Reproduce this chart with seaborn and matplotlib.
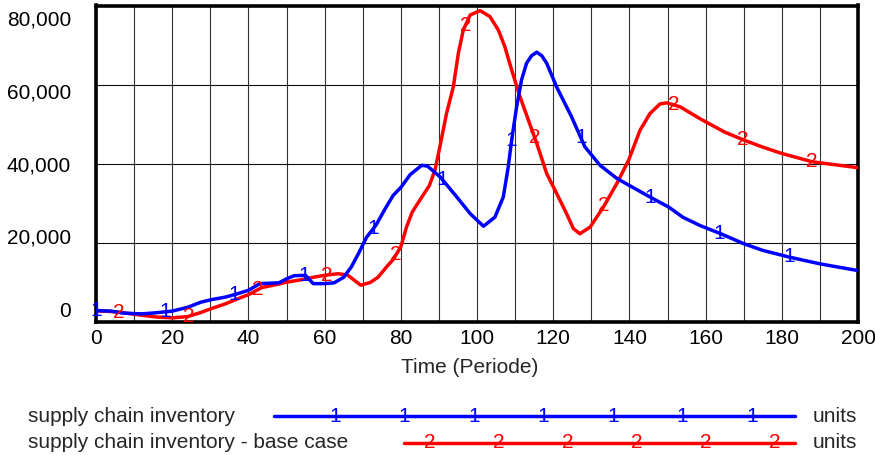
import numpy as np
import pandas as pd
import matplotlib
matplotlib.use("Agg")
import matplotlib.pyplot as plt
from matplotlib.lines import Line2D
from matplotlib.transforms import ScaledTranslation
import seaborn as sns

# Run 1: supply chain inventory
inv_time = [0, 4, 7, 12, 16, 20, 24, 27.5, 30, 34, 37, 40, 43, 48, 50, 52, 55, 57, 60, 62.5,
            65, 67, 69, 71, 73.5, 76, 78, 80, 82.5, 85.5, 87, 90.3, 94.7, 98.2, 101.7, 104.7,
            106.9, 108.2, 109.1, 110.4, 111.7, 113, 114.3, 115.7, 117, 118.3, 120.9, 124.8,
            128.3, 132.3, 136.7, 140, 145.4, 150.4, 154, 158.5, 164, 170, 175, 182, 190, 200]
inv_units = [2900, 2750, 2250, 2050, 2350, 2750, 3700, 5000, 5600, 6300, 7100, 8000, 9700, 9900,
             10900, 11700, 11800, 9700, 9700, 9900, 11300, 13900, 17500, 21400, 24500, 28800,
             32000, 34000, 37300, 39600, 39400, 36700, 31600, 27400, 24200, 26500, 31600, 39200,
             46000, 54400, 61200, 65400, 67300, 68200, 67300, 65400, 59400, 51900, 44300, 39600,
             36300, 34500, 31600, 29000, 26500, 24400, 22300, 19800, 18100, 16400, 14700, 13000]

# Run 2: supply chain inventory - base case
base_time = [0, 3, 6, 9, 12, 16, 20, 24, 27.5, 30, 34, 37, 40, 43.5, 48, 50, 54, 57, 60, 63.5,
             66, 68, 69.5, 72, 74, 76.5, 78, 80, 81.5, 83, 85, 87.5, 89, 90.3, 92, 93.8, 95.1,
             96.4, 98.2, 100.8, 103.4, 105.6, 107.3, 109.1, 111.3, 113.5, 115.7, 118.3, 120.9,
             123.5, 125.3, 127, 129.7, 133.2, 136.7, 139.8, 142.8, 145.4, 148, 149.8, 153.3,
             158.5, 165, 170, 175, 180, 188, 200]
base_units = [2800, 2700, 2500, 2100, 1700, 1250, 1050, 1350, 2400, 3300, 4600, 5800, 6900, 8700,
              9600, 10050, 10700, 11300, 11800, 12200, 11900, 10400, 9300, 10000, 11300, 14200,
              15800, 19000, 24000, 27800, 30800, 34500, 38500, 44500, 52700, 59500, 67900, 73800,
              77600, 78700, 77200, 73800, 69600, 63700, 56900, 51000, 45100, 37500, 32500, 27400,
              23600, 22300, 24000, 29100, 35000, 40900, 48500, 52700, 55100, 55400, 54400, 51400,
              48000, 46000, 44200, 42600, 40500, 39000]

x_ticks = list(range(0, 201, 20))
x_grid = list(range(0, 201, 10))
y_ticks = [0, 20000, 40000, 60000, 80000]
y_tick_labels = ["0", "20,000", "40,000", "60,000", "80,000"]
series_names = ["supply chain inventory", "supply chain inventory - base case"]
series_ids = ["1", "2"]
series_colors = ["#0000ff", "#ff0000"]
unit_label = "units"
x_label = "Time (Periode)"

sns.set_style("white")
plt.rcParams["font.family"] = ["Liberation Sans", "DejaVu Sans"]
plt.rcParams["font.size"] = 15

W, H = 875, 455
fig = plt.figure(figsize=(W / 100, H / 100), dpi=100)
ax = fig.add_axes([96 / W, 1 - 322 / H, 762 / W, 316.5 / H])

inv_df = pd.DataFrame({"time": inv_time, "units": inv_units})
base_df = pd.DataFrame({"time": base_time, "units": base_units})

lw = 2.5
sns.lineplot(data=base_df, x="time", y="units", color=series_colors[1], lw=lw, ax=ax,
             legend=False, zorder=3)
sns.lineplot(data=inv_df, x="time", y="units", color=series_colors[0], lw=lw, ax=ax,
             legend=False, zorder=4)

# numbered run markers spaced along each curve
step = 200 / 11
for k in range(11):
    t1 = k * step
    ax.text(t1, np.interp(t1, inv_time, inv_units), series_ids[0], color=series_colors[0],
            ha="center", va="center", fontsize=15, zorder=6, clip_on=False)
    t2 = step / 3 + k * step
    ax.text(t2, np.interp(t2, base_time, base_units), series_ids[1], color=series_colors[1],
            ha="center", va="center", fontsize=15, zorder=5, clip_on=False)

ax.set_xlim(0, 200)
ax.set_ylim(0, 80000)
ax.set_xticks(x_ticks)
ax.set_xticks(x_grid, minor=True)
ax.set_yticks(y_ticks)
ax.set_yticklabels(y_tick_labels)
ax.set_axisbelow(True)
ax.grid(which="both", axis="x", color="#333333", lw=0.8)
ax.grid(which="major", axis="y", color="#111111", lw=0.8)
ax.tick_params(which="both", length=0)
ax.tick_params(axis="x", pad=5, labelsize=15, colors="black")
ax.tick_params(axis="y", pad=18, labelsize=15, colors="black")

# value labels are spread evenly inside the axis height
shift_px = [12.5, 6.5, 0, -6.5, -13.0]
for lbl, s in zip(ax.get_yticklabels(), shift_px):
    lbl.set_transform(lbl.get_transform() + ScaledTranslation(0, s / 100, fig.dpi_scale_trans))

ax.set_xlabel(x_label, fontsize=15)
ax.set_ylabel("")
ax.xaxis.set_label_coords(0.491, -0.113)

for sp in ax.spines.values():
    sp.set_visible(True)
    sp.set_color("black")
    sp.set_linewidth(2.6)

# key below the chart
rows = [
    dict(y=416, x0=274, marks=[335 + 69.5 * i for i in range(7)]),
    dict(y=443, x0=403.5, marks=[429.5 + 69 * i for i in range(6)]),
]
for name, sid, col, row in zip(series_names, series_ids, series_colors, rows):
    yf = 1 - row["y"] / H
    fig.text(28 / W, yf, name, ha="left", va="center", fontsize=15)
    fig.add_artist(Line2D([row["x0"] / W, 795 / W], [yf, yf], color=col, lw=lw,
                          transform=fig.transFigure))
    for mx in row["marks"]:
        fig.text(mx / W, yf, sid, color=col, ha="center", va="center", fontsize=15)
    fig.text(813 / W, yf, unit_label, ha="left", va="center", fontsize=15)

fig.savefig("out.png", dpi=100)
